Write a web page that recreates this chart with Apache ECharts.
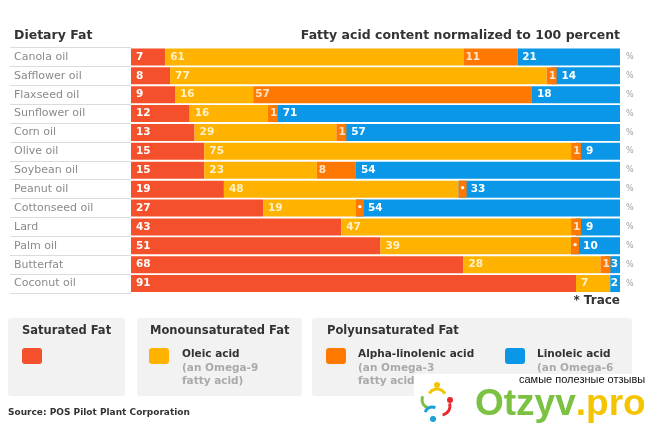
<!DOCTYPE html>
<html><head><meta charset="utf-8">
<script src="https://cdn.jsdelivr.net/npm/echarts@6/dist/echarts.min.js"></script>
<style>html,body{margin:0;padding:0;background:#fff}#c{width:650px;height:423px}</style>
</head><body><div id="c"></div>
<script>
const categories = ['Canola oil','Safflower oil','Flaxseed oil','Sunflower oil','Corn oil','Olive oil','Soybean oil','Peanut oil','Cottonseed oil','Lard','Palm oil','Butterfat','Coconut oil'];
const saturated = [7, 8, 9, 12, 13, 15, 15, 19, 27, 43, 51, 68, 91];
const oleic = [61, 77, 16, 16, 29, 75, 23, 48, 19, 47, 39, 28, 7];
// alpha-linolenic: 'T' = trace, null = none
const alphaLinolenic = [11, 1, 57, 1, 1, 1, 8, 'T', 'T', 1, 'T', 1, null];
const linoleic = [21, 14, 18, 71, 57, 9, 54, 33, 54, 9, 10, 3, 2];
const unitLabel = '%';

const C = {red:'#F4502B', yellow:'#FFB300', orange:'#FF7800', blue:'#0A97E8'};
const FONT = '"DejaVu Sans", sans-serif';

const chart = echarts.init(document.getElementById('c'), null, {renderer:'canvas'});

const alphaData = alphaLinolenic.map(v => (v === 'T' || v === null) ? '-' : v);
const traceData = alphaLinolenic.map(v => v === 'T' ? 0 : '-');
const blueData = linoleic.map((v, i) => {
  const a = alphaLinolenic[i];
  if (v < 5) return {value: v, label: {position: 'insideRight', distance: 2}};
  let off = 0;
  if (a === 'T') off = 7;
  else if (a === 1) off = 5;
  return off ? {value: v, label: {offset: [off, 0]}} : v;
});

const lab = (color) => ({show:true, position:'insideLeft', distance:5, color, fontFamily:FONT, fontWeight:'bold', fontSize:10.5});

chart.setOption({
  animation:false,
  backgroundColor:'#fff',
  textStyle:{fontFamily:FONT},
  grid:{left:131, right:30, top:47.5, bottom:130},
  xAxis:{type:'value', min:0, max:100, show:false},
  yAxis:[{
    type:'category', data:categories, inverse:true,
    axisLine:{show:false},
    axisTick:{show:true, length:121, lineStyle:{color:'#dcdcdc', width:1}},
    axisLabel:{align:'left', margin:117, color:'#8a8a8a', fontSize:11, fontFamily:FONT}
  },{
    type:'category', data:categories, inverse:true, position:'right',
    axisLine:{show:false}, axisTick:{show:false},
    axisLabel:{formatter:()=>unitLabel, margin:6, color:'#a0a0a0', fontSize:8, fontFamily:FONT}
  }],
  series:[
    {name:'Saturated Fat', type:'bar', stack:'f', data:saturated, barCategoryGap:'10%', itemStyle:{color:C.red}, label:lab('#fff')},
    {name:'Oleic acid', type:'bar', stack:'f', data:oleic, itemStyle:{color:C.yellow}, label:lab('#FFF1C8')},
    {name:'Alpha-linolenic acid', type:'bar', stack:'f', data:alphaData, z:3, barMinHeight:10, itemStyle:{color:C.orange}, label:Object.assign(lab('#FFE3C8'), {distance:2})},
    {name:'Trace', type:'bar', stack:'f', data:traceData, z:3, barMinHeight:8, itemStyle:{color:C.orange}, label:{show:true, position:'inside', formatter:'•', color:'#fff', fontSize:9, fontWeight:'bold'}},
    {name:'Linoleic acid', type:'bar', stack:'f', data:blueData, itemStyle:{color:C.blue}, label:lab('#fff')}
  ],
  graphic:[
    {type:'text', left:14, top:29, style:{text:'Dietary Fat', fill:'#333', font:'bold 12.5px '+FONT}},
    {type:'text', right:30, top:29, style:{text:'Fatty acid content normalized to 100 percent', fill:'#333', font:'bold 12.5px '+FONT}},
    {type:'text', right:30, top:295, style:{text:'* Trace', fill:'#333', font:'bold 12px '+FONT}},
    {type:'rect', shape:{x:8, y:318, width:117, height:78, r:3}, style:{fill:'#F2F2F2'}},
    {type:'rect', shape:{x:137, y:318, width:165, height:78, r:3}, style:{fill:'#F2F2F2'}},
    {type:'rect', shape:{x:312, y:318, width:320, height:78, r:3}, style:{fill:'#F2F2F2'}},
    {type:'text', x:22, y:325, style:{text:'Saturated Fat', fill:'#333', font:'bold 11.5px '+FONT}},
    {type:'text', x:150, y:325, style:{text:'Monounsaturated Fat', fill:'#333', font:'bold 11.5px '+FONT}},
    {type:'text', x:327, y:325, style:{text:'Polyunsaturated Fat', fill:'#333', font:'bold 11.5px '+FONT}},
    {type:'rect', shape:{x:22, y:348, width:20, height:16, r:3}, style:{fill:C.red}},
    {type:'rect', shape:{x:149, y:348, width:20, height:16, r:3}, style:{fill:C.yellow}},
    {type:'rect', shape:{x:326, y:348, width:20, height:16, r:3}, style:{fill:C.orange}},
    {type:'rect', shape:{x:505, y:348, width:20, height:16, r:3}, style:{fill:C.blue}},
    {type:'text', x:182, y:349, style:{text:'Oleic acid', fill:'#333', font:'bold 10.5px '+FONT}},
    {type:'text', x:182, y:362, style:{text:'(an Omega-9\nfatty acid)', fill:'#aaa', font:'bold 10.5px '+FONT, lineHeight:13}},
    {type:'text', x:358, y:349, style:{text:'Alpha-linolenic acid', fill:'#333', font:'bold 10.5px '+FONT}},
    {type:'text', x:358, y:362, style:{text:'(an Omega-3\nfatty acid)', fill:'#aaa', font:'bold 10.5px '+FONT, lineHeight:13}},
    {type:'text', x:537, y:349, style:{text:'Linoleic acid', fill:'#333', font:'bold 10.5px '+FONT}},
    {type:'text', x:537, y:362, style:{text:'(an Omega-6\nfatty acid)', fill:'#aaa', font:'bold 10.5px '+FONT, lineHeight:13}},
    {type:'text', x:8, y:408, style:{text:'Source: POS Pilot Plant Corporation', fill:'#333', font:'bold 9px '+FONT}},
    {type:'rect', shape:{x:414, y:374, width:236, height:49}, style:{fill:'#fff'}},
    {type:'text', x:519, y:374, style:{text:'самые полезные отзывы', fill:'#111', font:'11px "Liberation Sans", sans-serif'}},
    {type:'circle', shape:{cx:437, cy:385, r:3}, style:{fill:'#F5C400'}},
    {type:'arc', shape:{cx:437, cy:398, r:9, startAngle:-2.6, endAngle:-0.5}, style:{stroke:'#F5C400', lineWidth:3, fill:null}},
    {type:'arc', shape:{cx:430, cy:400, r:8, startAngle:1.8, endAngle:3.6}, style:{stroke:'#7CC242', lineWidth:3, fill:null}},
    {type:'circle', shape:{cx:450, cy:400, r:3}, style:{fill:'#E8272F'}},
    {type:'arc', shape:{cx:441, cy:406, r:9, startAngle:-0.3, endAngle:1.4}, style:{stroke:'#E8272F', lineWidth:3, fill:null}},
    {type:'arc', shape:{cx:432, cy:414, r:7, startAngle:3.4, endAngle:5.2}, style:{stroke:'#1BA0DA', lineWidth:3, fill:null}},
    {type:'circle', shape:{cx:433, cy:419, r:3}, style:{fill:'#1BA0DA'}},
    {type:'text', x:475, y:386, style:{text:'{a|Otzyv}{b|.pro}', rich:{a:{fill:'#7CC242', font:'bold 37px "Liberation Sans", sans-serif'}, b:{fill:'#F5C400', font:'bold 37px "Liberation Sans", sans-serif'}}}}
  ]
});
</script></body></html>
